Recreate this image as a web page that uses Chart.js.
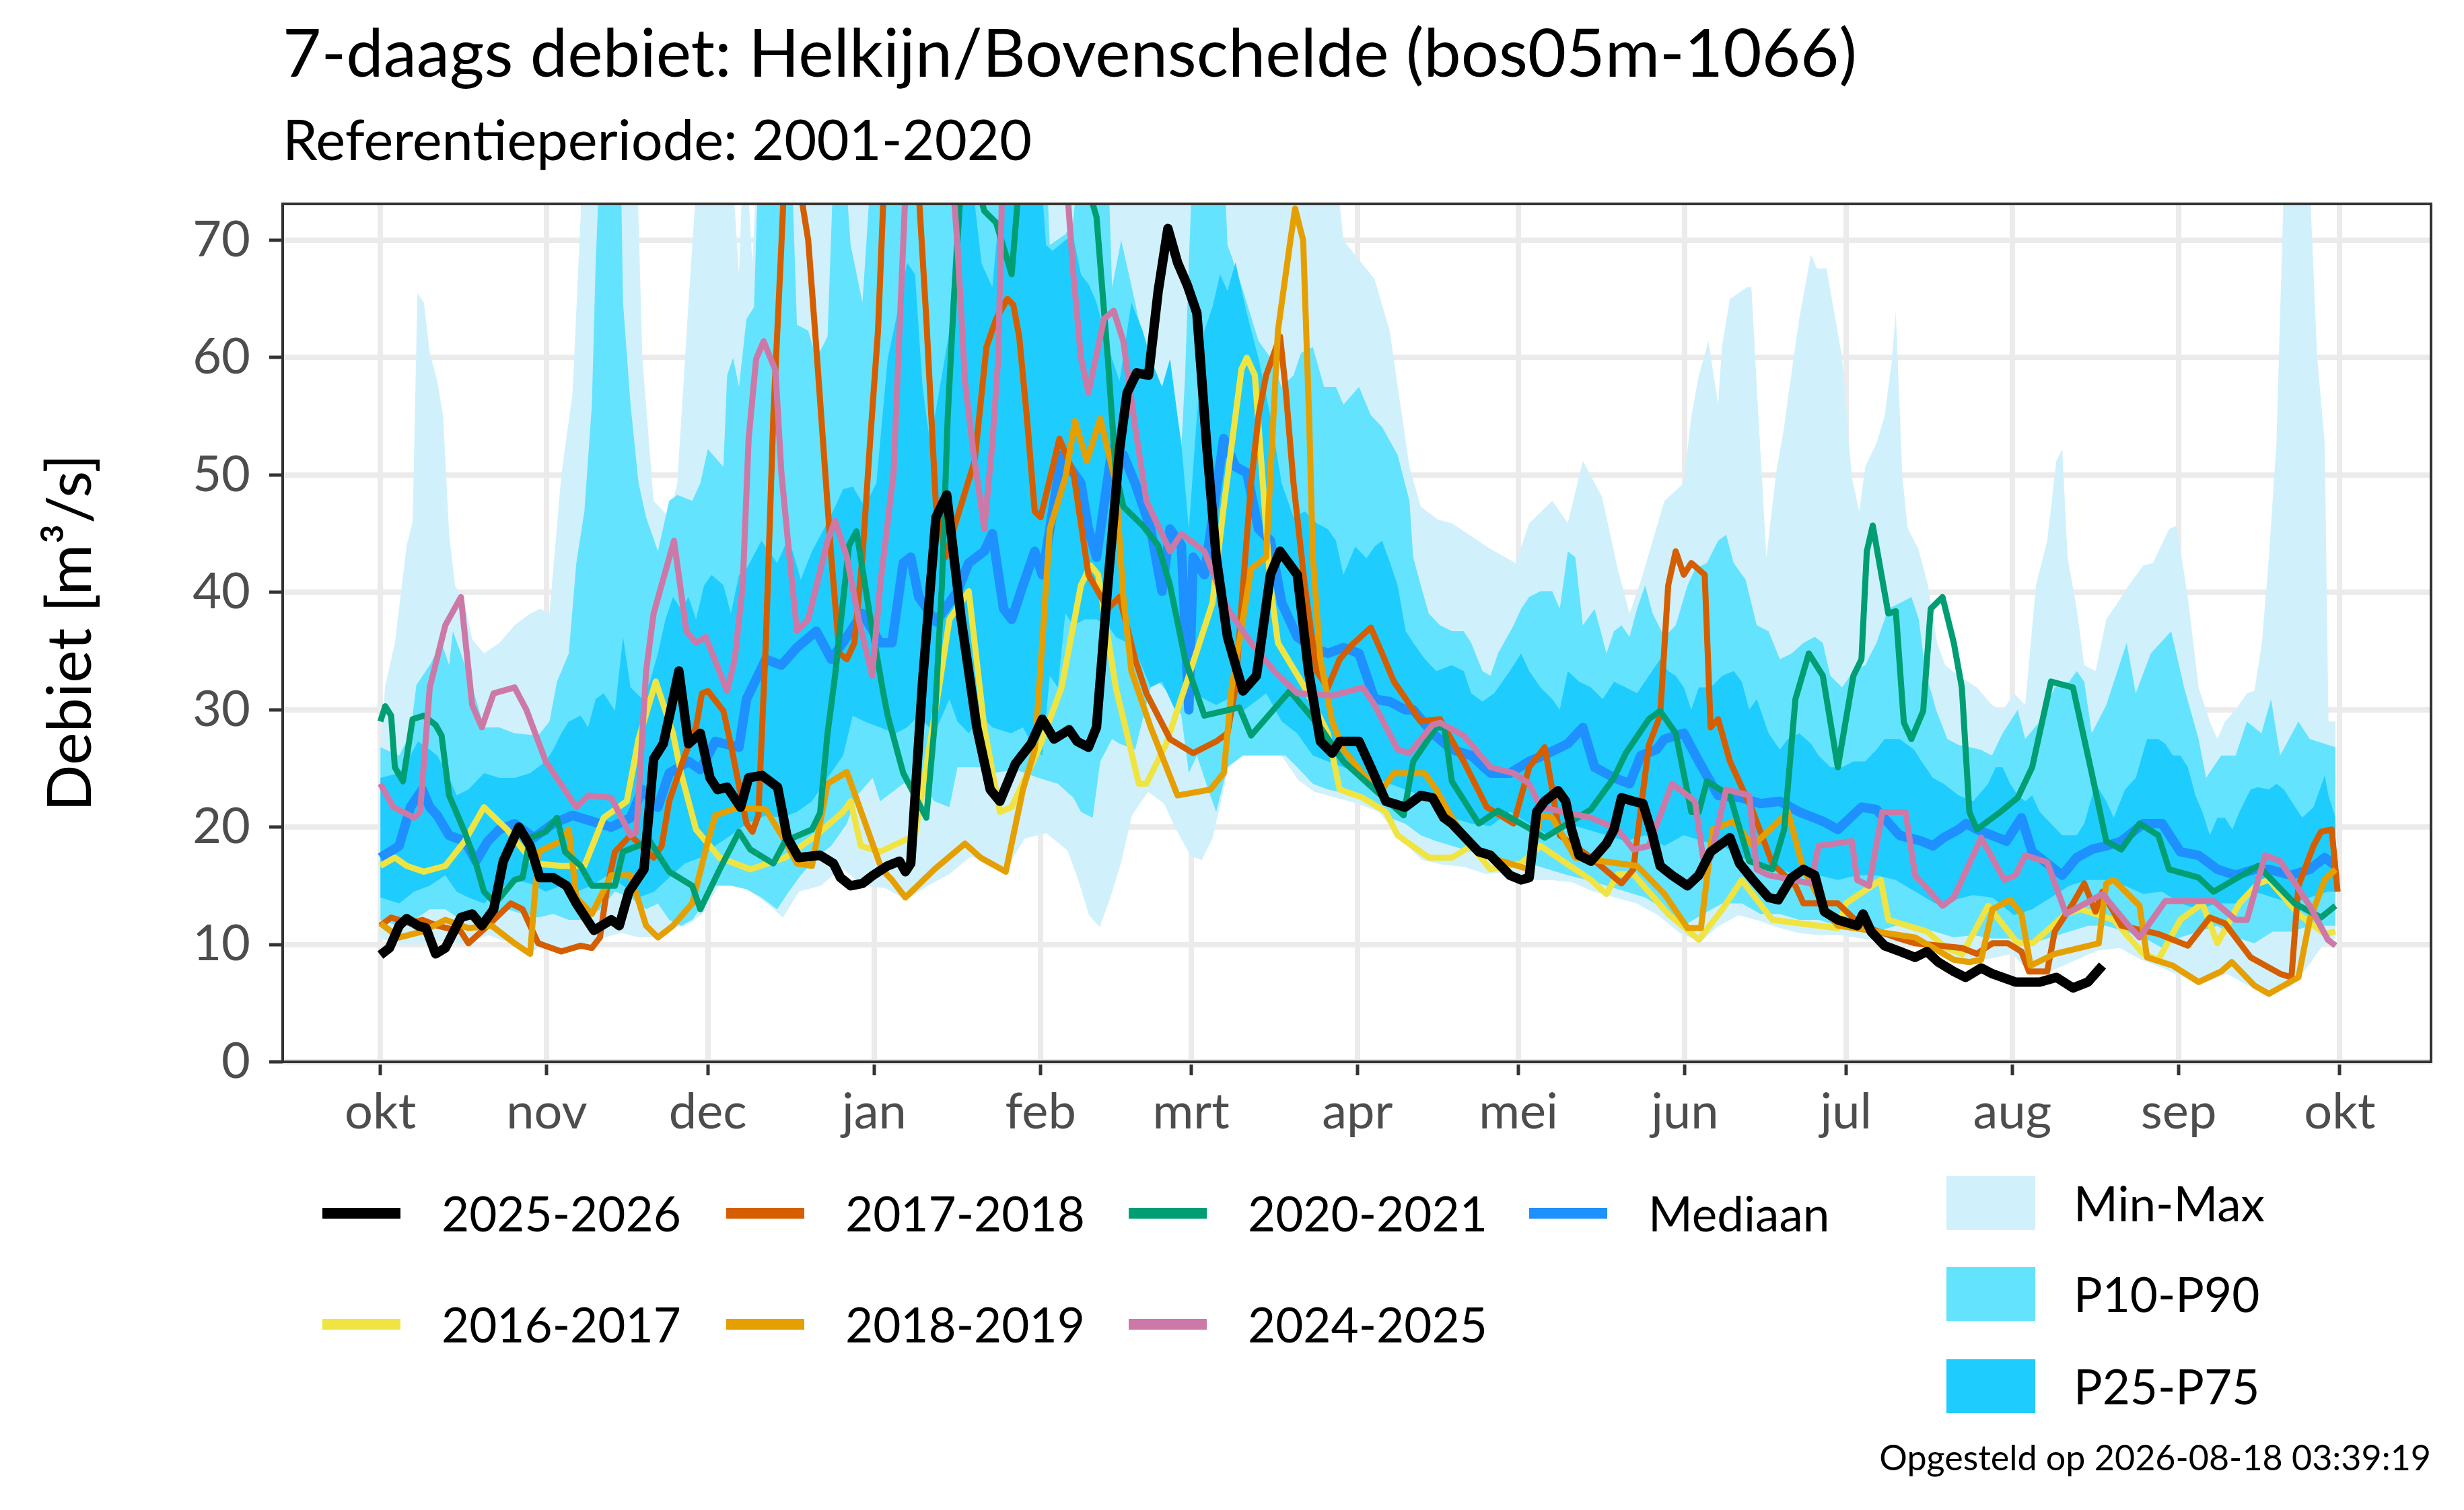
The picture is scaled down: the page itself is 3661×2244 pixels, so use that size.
<!DOCTYPE html>
<html>
<head>
<meta charset="utf-8">
<title>7-daags debiet Helkijn/Bovenschelde</title>
<script src="https://cdn.jsdelivr.net/npm/chart.js@4.4.1/dist/chart.umd.min.js"></script>
<style>
  html, body { margin: 0; padding: 0; background: #fff; }
  body { width: 3661px; height: 2244px; position: relative; overflow: hidden; font-family: Lato, sans-serif; color: #000; }
  #wrap { position: absolute; left: 0; top: 0; width: 3661px; height: 2244px; }
  .txt { position: absolute; white-space: nowrap; line-height: 1.2; }
  .item { position: absolute; display: flex; align-items: center; height: 120px; }
  .key { display: inline-block; }
</style>
</head>
<body>
<div id="wrap"><canvas id="debietChart"></canvas></div>
<div class="txt" style="left:420px;top:17px;font-size:99px">7-daags debiet: Helkijn/Bovenschelde (bos05m-1066)</div>
<div class="txt" style="left:420px;top:157px;font-size:83px">Referentieperiode: 2001-2020</div>
<div id="legende"></div>
<div class="txt" style="right:49px;top:2134px;font-size:52px">Opgesteld op 2026-08-18 03:39:19</div>

<script>
// x = dag sinds 1 oktober
const maandDagen = [0, 31, 61, 92, 123, 151, 182, 212, 243, 273, 304, 335, 365];
const maandLabels = ['okt', 'nov', 'dec', 'jan', 'feb', 'mrt', 'apr', 'mei', 'jun', 'jul', 'aug', 'sep', 'okt'];
const yTicks = [0, 10, 20, 30, 40, 50, 60, 70];

// [dag, debiet m3/s]
const jaar2025 = [[0,9.1],[1.7,9.7],[3.5,11.6],[4.9,12.2],[7,11.6],[8.5,11.4],[10.3,9.2],[12.1,9.7],[15,12.3],[17.1,12.6],[18.9,11.6],[21.1,13],[22.9,17.1],[25.8,20],[27.9,18.4],[29.7,15.7],[32.2,15.7],[34.7,15],[36.5,13.5],[39.8,11.2],[43,12.1],[44.5,11.6],[46.3,14.5],[49.1,16.4],[50.9,25.8],[52.7,27.1],[54.2,30.2],[55.6,33.3],[57.4,27.1],[59.6,28],[61.4,24.2],[62.8,23.2],[64.6,23.4],[67.1,21.7],[68.6,24.2],[71.1,24.4],[74,23.4],[75.8,19.1],[77.9,17.4],[81.9,17.6],[84.4,16.9],[85.7,15.7],[87.6,15],[89.8,15.2],[91.8,15.9],[94.5,16.7],[96.7,17.1],[97.8,16.2],[98.8,16.9],[101,32.4],[103.5,46.4],[105.5,48.3],[108.2,37.7],[111.1,28.5],[113.6,23.2],[115.4,22.2],[118.3,25.4],[121.2,27.1],[123.3,29.2],[125.5,27.5],[128.3,28.3],[129.8,27.3],[131.9,26.8],[133.4,28.5],[135.5,40.6],[137.7,52.2],[139.1,57],[140.9,58.7],[143.1,58.5],[144.9,65.7],[146.7,71],[148.5,68.1],[150.3,66.2],[152.1,63.8],[153.9,52.7],[155.7,43],[157.8,36.2],[160.7,31.6],[163.2,32.9],[165.8,41.5],[167.6,43.5],[170.8,41.5],[172.9,33.3],[175.1,27.3],[177.3,26.3],[178.7,27.3],[182.3,27.3],[184.5,25.1],[187.3,22.2],[190.9,21.7],[193.8,22.7],[196,22.5],[198.1,20.8],[199.6,20.3],[204.6,17.9],[206.8,17.6],[210.4,15.9],[212.5,15.5],[214,15.7],[215.4,21.3],[216.9,22.2],[219.4,23.1],[220.8,22.2],[221.9,19.8],[223.3,17.6],[225.5,17.1],[228.4,18.6],[229.8,19.8],[231.2,22.5],[233.4,22.2],[235.2,22],[237,19.3],[238.4,16.7],[240.6,15.9],[243.5,15],[245.6,15.9],[247.8,17.9],[251.4,19.1],[253.2,16.9],[255.7,15.5],[258.6,14],[260.4,13.8],[262.9,15.7],[265.1,16.4],[267.2,15.9],[269,12.8],[271.5,12.1],[275.1,11.6],[276.2,12.6],[277.7,11.1],[280.2,9.9],[283.1,9.4],[285.9,8.9],[288.1,9.4],[290.2,8.5],[293.1,7.7],[295.3,7.2],[298.2,8],[300.3,7.5],[304.6,6.8],[309.1,6.8],[312.2,7.2],[315.3,6.3],[318.1,6.8],[320.8,8.2]];

const jaar2016 = [[0,16.7],[2.7,17.4],[4.9,16.7],[8.1,16.2],[12.1,16.7],[15.7,18.8],[19.3,21.7],[23.6,19.8],[28.6,16.9],[33.7,16.7],[38,16.7],[41.6,20.8],[45.9,22.2],[48.1,27.5],[51.3,32.4],[54.5,28],[56,24.6],[58.8,19.8],[63.2,17.4],[68.9,16.4],[75.4,17.4],[81.2,19.3],[86.2,21.3],[87.6,22.2],[89.5,18.4],[93.1,17.9],[99.6,19.3],[103.9,31.4],[106,37.7],[109.6,40.1],[112.5,28.5],[115.4,21.3],[117.6,21.7],[122.6,26.6],[126.9,31.9],[130.5,40.6],[132.3,42.3],[133.7,41.5],[137,31.9],[141.3,23.7],[142.7,23.7],[146.3,27],[150.6,32.9],[155,39.1],[157.1,47.3],[160.4,59],[161.4,60],[162.9,58.5],[165.8,40.6],[167.2,35.7],[172.2,31.9],[176.5,28],[178.7,23.2],[183,22.5],[187.3,21.3],[189.5,19.3],[195.3,17.4],[199.6,17.4],[203.2,18.4],[206.8,16.4],[212.5,16.9],[216.1,18.4],[222.6,16.4],[225.5,15.5],[228.4,14.3],[230.5,16],[233.4,16],[239.9,12.6],[245.6,10.4],[250,13],[253.6,15.5],[259.3,12.1],[267.9,11.6],[271.5,11.4],[273,13.5],[279.5,15.5],[280.9,12.1],[288.1,11.1],[291.7,9.7],[294.7,9.2],[299.5,13.3],[305,10.1],[307.8,10.1],[314,12.6],[316.7,13],[322.9,12.1],[328.4,9.2],[331.2,8.7],[335.3,12.1],[339.4,13.5],[342.2,10.1],[346.3,13.5],[349.8,15.2],[351.8,15.5],[357.3,12.6],[362.2,10.9],[364.2,11.1]];

const jaar2017 = [[0,11.6],[2,12.3],[5.6,11.8],[7.8,12.1],[10.6,11.6],[15,11.1],[16.4,10.1],[20,11.6],[24.3,13.5],[26.5,13],[29.4,10.1],[33.7,9.4],[37.3,9.9],[39.4,9.7],[40.9,10.6],[42.3,15],[43.7,17.9],[46.6,19.3],[50.9,17.4],[52.4,18.4],[53.8,22.2],[56.7,26.1],[58.8,28.5],[59.9,31.4],[61,31.6],[63.9,29.9],[65.3,27],[68.2,20.3],[69.3,19.6],[70.4,21],[71.8,35.7],[73.2,55],[74.7,69.6],[76.5,88],[78.3,74],[79.7,70],[81.2,60.9],[84,43],[85.5,34.8],[86.9,34.3],[88.3,35.7],[89.8,43],[91.2,52.7],[92.7,62.3],[93.7,73.5],[96.5,95],[100.3,74],[101.7,63.3],[103.5,47.3],[105.3,43],[106.8,45.4],[110.7,51.2],[112.9,60.9],[114.7,63.3],[116.8,65],[117.9,64.5],[119,61.8],[120.4,55.1],[121.9,46.9],[123,46.4],[126.5,53.1],[129.1,50.2],[131.9,41.5],[135.5,38.6],[137.7,39.6],[140.6,34.3],[142.7,31.4],[147.1,27.5],[151.4,26.3],[155.7,27.3],[157.8,28],[159.3,31.9],[160.7,40.6],[162.2,49.3],[163.6,55.1],[165,58.5],[167.6,61.8],[168.6,57.5],[170.1,49.3],[172.2,40.6],[174.4,33.3],[176.5,31.9],[178.7,34.3],[180.9,35.5],[184.5,37],[186.6,34.8],[188.8,32.4],[190.9,31],[193.8,29],[197.4,29.2],[201.8,25.6],[206.1,21.7],[211.1,20.3],[214,25.1],[216.9,26.8],[218.3,23.2],[219.7,19.3],[225.5,17.4],[231.2,15.2],[233.4,16.4],[236.3,27],[238.4,29.5],[239.9,40.6],[241.3,43.5],[242.8,41.5],[244.2,42.5],[246.7,41.5],[247.8,28.5],[249.2,29.2],[251.4,25.6],[255.7,21.3],[259.3,16.9],[263.6,15],[265.1,13.5],[271.5,13.5],[275.9,11.6],[282.3,10.6],[285.9,10.1],[294.6,9.7],[297.4,9.2],[300.3,10.1],[303.2,10.1],[305.7,9.4],[307.1,7.7],[310.5,7.7],[311.9,11.1],[315.3,13.5],[317.4,15.2],[319.5,12.8],[320.8,14.5],[324.3,11.6],[331.2,10.9],[336.7,9.9],[340.8,12.3],[343.6,11.8],[348.4,8.9],[353.9,7.5],[356,7.2],[357.3,15],[360.1,18.4],[361.5,19.6],[363.5,19.8],[364.6,14.5]];

const jaar2018 = [[0,11.8],[3.5,10.6],[7.8,11.1],[12.1,12.1],[16.4,11.4],[20.7,11.6],[25,10.1],[27.9,9.2],[29.4,17.9],[33.7,18.8],[35.1,19.8],[36.5,14],[39.4,12.6],[43,15.9],[46.6,15.9],[49.5,11.6],[51.7,10.6],[54.5,11.6],[58.1,13.5],[61,18.8],[62.4,21],[66.8,21.7],[71.8,21.5],[75.4,18.8],[77.6,16.9],[80.4,16.7],[83.3,23.7],[86.9,24.7],[89.8,21],[93.4,16.4],[95.3,15.5],[97.8,14],[103.2,16.4],[108.9,18.6],[111.8,17.4],[116.5,16.2],[119.7,23.2],[121.9,26.6],[123.3,35.7],[124.7,45.4],[127.6,49.8],[129.4,54.6],[131.6,51.2],[134.1,54.8],[137,49.3],[138.4,39.6],[139.9,33.3],[143.5,28.5],[148.5,22.7],[154.6,23.2],[157.1,24.6],[158.6,31.9],[162.2,42],[165,43],[167.2,62.3],[169.4,69.6],[170.4,72.7],[171.9,70],[173,55],[173.7,43],[175.1,34.3],[177.3,29],[179.4,26.6],[184.5,23.7],[186.6,23.2],[188.8,24.6],[194.5,24.6],[196.7,23.2],[199.6,20.8],[203.2,18.4],[206.8,17.4],[214,16.4],[216.1,21],[218.3,20.8],[222.6,17.4],[234.1,16.7],[239.2,14.3],[243.5,11.4],[246,11.4],[248.2,19.8],[252.1,20.5],[255.7,18.4],[262.2,21.3],[265.1,16.4],[269.4,12.8],[271.5,11.6],[285.9,10.6],[293.1,8.7],[296,8.5],[298.2,8.7],[300.3,13],[303.6,13.8],[305.7,12.6],[307.4,8.2],[311.9,9.2],[320.1,10.1],[321.5,15.2],[322.9,15.5],[327.7,13.3],[329.1,8.9],[333.9,8.2],[338.7,6.8],[342.9,7.7],[344.9,8.5],[349.1,6.5],[351.8,5.8],[357.3,7.2],[359.4,12.1],[362.2,15.5],[364.2,16.4]];

const jaar2020 = [[0,29],[0.9,30.3],[2,29.5],[2.7,25.1],[4.2,23.9],[6,29.2],[8.1,29.5],[10.3,28.7],[11.4,27.8],[12.8,22.7],[15.7,19.6],[17.8,16.9],[19.3,14.5],[21.4,13.5],[25,15.5],[26.5,15.7],[27.9,19.1],[30.8,19.6],[32.9,20.8],[34.4,17.9],[37.3,16.7],[39.4,15],[43.7,15],[45.2,17.9],[50.2,18.8],[53.8,16.2],[58.1,15],[59.6,13],[63.2,16.4],[66.8,19.6],[68.9,18.1],[73.2,16.9],[75.4,18.8],[80.4,19.8],[81.9,21.2],[83.3,28],[84.7,32.9],[87.3,44],[88.7,45.2],[91.2,38],[93.7,31.4],[94.5,29.5],[97.4,24.6],[101.7,20.8],[103.2,28.5],[104.6,40.6],[105.7,55.1],[106.8,64.7],[108.2,75],[110.4,76],[112.5,72.5],[114.7,71.5],[117.6,67.1],[119,75],[125,85],[133.4,72],[135.5,60],[137,50.2],[138.4,47.3],[142,45.7],[144.9,44],[147.1,40.6],[149.9,34.3],[153.5,29.5],[160,30.2],[162.2,27.8],[169.4,31.6],[175.1,28.5],[179.4,25.6],[185.2,23.2],[190.6,21],[192.4,25.6],[196.7,28.5],[198.2,28.5],[199.6,23.9],[204.6,20.3],[208.2,21.4],[214,19.9],[216.9,19.1],[225.5,21.5],[229.8,24.2],[232,26.3],[236.3,29.2],[238.4,29.9],[241.3,28],[244.2,21.3],[245.6,21.3],[247.1,23.9],[251.4,22.7],[255,17.1],[259.3,16.4],[261.5,19.8],[263.6,30.9],[266.1,34.8],[268.7,32.9],[271.5,25.1],[274.4,32.9],[275.9,34.3],[276.9,43.5],[278,45.7],[280.9,38.2],[282.3,38.4],[283.8,28.9],[285.2,27.5],[287.4,29.9],[288.8,38.6],[291,39.6],[293.1,35.7],[294.6,31.9],[296,21.3],[297.4,19.8],[301.8,21.3],[305,22.5],[307.7,25.1],[311.2,32.4],[315.3,31.9],[318.8,24.6],[321.5,18.8],[324.3,18.1],[327.7,20.3],[331.2,19.3],[333.2,16.4],[338.7,15.7],[341.5,14.5],[349.8,16.7],[356.6,13.5],[361.5,12.3],[364.2,13.3]];

const jaar2024 = [[0,23.7],[2.4,21.7],[6.3,20.8],[7.4,21.3],[9.2,31.9],[12.1,37.2],[15,39.6],[17.1,30.4],[18.9,28.5],[21.1,31.4],[25,31.9],[27.2,30],[30.8,25.6],[36.5,21.7],[38.7,22.7],[43,22.5],[46.6,19.3],[47.7,19.6],[49.5,33.3],[50.9,38.2],[54.7,44.4],[57,36.7],[58.8,35.7],[60.6,36.2],[64.6,31.6],[66,34.3],[67.5,40.6],[68.6,53.1],[70,59.9],[71.4,61.4],[73.6,58.9],[74.7,50.2],[76.1,43.5],[77.6,36.7],[79.7,37.7],[83.3,44.4],[84.7,46.1],[86.9,43],[89.1,37.7],[91.6,32.9],[93.1,40.6],[95.6,50.2],[96.7,62.3],[97.8,74],[101,85],[106.8,74],[107.5,69.6],[108.9,58],[110.4,52.2],[112.5,45.4],[114,52.7],[115.1,60],[115.8,74],[121,90],[128,74],[129.1,67.1],[130.5,60],[131.9,57],[134.8,63.3],[136.6,64],[138.4,61.4],[140.6,54.1],[142.7,47.8],[147.1,43.5],[149.2,45],[153.5,43.5],[157.8,38.6],[162.2,35.7],[166.5,33.3],[170.8,31.4],[177.3,31.2],[183,31.9],[185.2,30.4],[189.5,26.6],[191.7,26.3],[196,28.7],[197.4,28.9],[201.8,27.8],[206.8,25.1],[211.1,24.6],[214,23.7],[216.1,21.7],[225.5,20.8],[230.5,19.8],[233.4,18.1],[236.3,18.4],[240.6,23.7],[244.9,22.2],[246.4,17.4],[247.8,17.4],[250.7,23.2],[255,22.7],[256.4,16.4],[258.6,15.9],[266.5,15.2],[267.9,18.4],[274.1,18.8],[275.1,15.5],[277.3,15],[279.8,21.3],[284.1,21.3],[285.9,15.9],[291,13.3],[293.1,14],[298.2,19.1],[302.5,15.5],[304.6,15.9],[306.4,17.6],[310.5,17],[314,12.6],[320.8,14.3],[325.7,11.6],[327.7,10.6],[332.5,13.7],[341.5,13.7],[345.6,12.1],[347.7,12.1],[351.1,17.6],[353.9,17.1],[359.4,13.3],[362.8,10.4],[364.2,9.9]];

const mediaan = [[0,17.4],[3.5,18.4],[5.6,21.7],[7.8,23.2],[9.2,21.7],[10.6,21],[12.8,19.3],[15.7,18.8],[17.8,17.1],[20,18.8],[22.2,19.8],[25,20.3],[28.6,19.1],[32.2,20.3],[35.8,21],[39.4,20.5],[43,20],[46.6,20.8],[48.8,23.2],[51.7,21.7],[53.8,24.6],[57.4,25.6],[59.6,24.9],[62.4,27.3],[66.8,26.8],[68.2,30.9],[71.8,34.3],[74.7,33.8],[77.6,35.3],[81.2,36.7],[84,34.3],[86.9,36.2],[89.8,38.2],[93.1,35.7],[95.3,35.7],[97.4,42.5],[98.8,43],[100.3,39.6],[103.5,37.5],[107.5,40.1],[109.6,42.5],[112.5,43.5],[114,45],[116.1,38.6],[117.6,37.7],[119.7,40.6],[121.9,43.5],[123.3,41.5],[124.7,45.4],[126.9,51.7],[129.1,50.2],[130.5,49.3],[131.9,45.4],[133.4,43],[136.3,52.2],[138.4,51.7],[140.6,49.3],[143.5,45.4],[145.6,40.1],[147.1,45.4],[149.2,44],[150.6,30],[151.4,43],[153.5,41.5],[157.1,53.1],[159.3,50.7],[161.4,50.2],[163.6,45.4],[165.8,44.4],[167.9,39.1],[170.8,36.2],[173.7,35.3],[176.5,34.8],[179.4,35.3],[182.3,34.8],[185.2,30.9],[188,30.7],[190.9,30],[192.4,30],[196,28],[199.6,26.6],[203.2,26.1],[206.8,24.6],[210.4,24.6],[214,25.6],[217.6,26.3],[221.2,27.1],[224,28.5],[226.2,25.1],[229.8,24.2],[232.7,23.7],[234.8,26.1],[237.7,26.6],[239.2,27.5],[242.8,28],[245.6,25.6],[249.2,22.7],[253.6,22.5],[257.1,22],[260.7,22.2],[264.3,21.3],[268.7,20.5],[271.5,19.8],[275.9,21.7],[278.7,21.5],[283,19.3],[287.1,18.8],[289.2,18.4],[291.2,19.1],[294,19.8],[295.4,20.3],[297.4,19.8],[300.2,19.3],[302.9,18.8],[305.7,20.8],[307.7,17.9],[310.5,16.9],[313.3,15.9],[316,17.4],[318.8,18.1],[321.5,18.4],[324.3,18.8],[328.4,20.3],[331.9,20.3],[335.3,17.9],[338.7,17.6],[342.2,16.4],[345.6,15.9],[349.1,16.4],[351.8,16.4],[356,15.9],[359.4,16.4],[362.2,17.4],[364.2,16.7]];

const maximum = [[0,27],[0.9,32],[2.7,35.7],[4.9,44],[6,46],[6.9,65.5],[8.1,64.7],[9.2,60.4],[10.6,58],[11.7,55],[12.8,45],[13.9,40.6],[15.7,39.1],[17.1,36],[19.3,34.8],[22.2,35.7],[25,37.2],[27.9,38.2],[29.7,38.6],[31.5,38.2],[33.7,50],[35.8,57],[37.3,72],[38.5,90],[47,90],[48.8,60],[50.9,47.8],[53.8,46.4],[55.3,49.3],[57.4,64.7],[59.6,80],[65,80],[66.8,67.1],[67.8,80],[69.3,68],[71,85],[97,85],[98.1,67.1],[100,85],[103,85],[104.6,65.7],[107,90],[176,85],[179.4,70],[185.2,66.7],[188,62.3],[191.7,50.7],[193.8,47.3],[197,46.2],[199.6,45.9],[206.8,43.7],[211.5,42.5],[214,45.9],[218.3,47.8],[221.2,45.9],[224,51.2],[227.6,48.1],[230.5,42],[232.7,38.2],[234.8,41],[239.2,47.8],[242.8,49.3],[244.2,55],[245.6,58.5],[247.4,61.4],[249.2,56],[249.9,60.9],[251.4,65],[254.6,66],[255.4,66],[256.4,57.5],[258.2,43],[260,50.2],[261.5,54.1],[262.5,57.5],[264.3,63.3],[266.5,68.8],[267.6,67.6],[269.4,67.6],[272.3,60],[274.1,49.8],[275.5,46.9],[276.6,50.7],[278.7,52.7],[280.2,55],[281.6,59.9],[282.3,64],[283.5,50],[284.5,45.5],[286.5,43.7],[288.3,40.6],[290,35.7],[291.5,33.8],[294,32.9],[297.4,31.9],[300.2,30.4],[302.2,29.9],[304.3,31.4],[306.4,30.4],[308.4,40.6],[310.5,44.4],[312.2,51.2],[313.3,52.2],[314.3,43],[316,38.6],[317.4,33.8],[319.5,33.3],[321.5,37.7],[323.6,39.1],[325.7,40.6],[328.4,42.3],[330.2,42.5],[333.2,45.4],[334.6,45.7],[336.7,39.6],[338.7,31.9],[340.8,29],[342.2,27.5],[343.6,29],[345.6,30],[347.7,31.4],[349.1,31.6],[350.5,35.7],[351.8,43],[353.2,52.7],[354.6,75],[357,85],[359.4,75],[360.8,60],[362.2,52.7],[362.9,29],[364.2,29]];

const p90 = [[0,26.8],[3.5,26.1],[5.6,28],[6.7,32.1],[9.2,33.8],[11.4,35.7],[12.8,33.8],[13.5,36.7],[15,34.8],[16.4,32.9],[17.8,30.9],[19.3,28.5],[22.2,28.5],[25,28],[29.4,27.8],[31.5,29],[32.9,32.4],[35.1,34.8],[36.5,42.5],[38,46.9],[39.4,56],[40.1,68],[41.6,85],[44.5,85],[45.2,64.7],[46.6,56],[48.1,49.3],[49.5,46.4],[51.7,43.5],[53.8,47.8],[55.3,48.3],[58.1,47.8],[59.6,49.3],[61,52.2],[63.9,50.7],[64.6,58.5],[65.7,60],[66.8,57.5],[68.2,63.3],[69.6,64.3],[71,85],[76,85],[77.6,62.8],[79.7,62.3],[81.2,59.9],[83.3,61.8],[84.7,80],[86,80],[87.6,69.6],[89.8,64.7],[92.7,85],[123.3,85],[124.7,69.6],[127.6,70.5],[129,71.5],[132,85],[135,85],[136.3,66],[138,70],[140.6,64.7],[142.7,60],[143.5,54.1],[144.9,52.7],[146.3,51.2],[148.5,51.2],[149.2,52.2],[149.9,58.5],[150.6,68],[152,85],[156.5,85],[157.8,69.6],[158.6,68.6],[160.7,65.7],[163.6,61.4],[165.8,60],[167.9,57.5],[170.1,58.5],[171.5,60.4],[173.7,60.9],[175.8,57.5],[178,57.5],[179.4,56],[182.3,57.5],[184.5,55.1],[186.6,54.1],[189.5,51.7],[191.7,47.8],[192.4,43],[193.8,40.6],[195.3,38.2],[197.4,37.2],[199.6,36.7],[201.8,36.7],[203.2,35.7],[205.3,33.3],[206.8,32.9],[208.2,34.8],[211.1,37.2],[212.5,38.6],[214,39.6],[216.1,40.1],[218.3,40.1],[219.7,38.6],[221.2,43.5],[222.6,43],[224,37.2],[226.2,38.6],[227.6,36.2],[228.4,34.8],[229.8,36.7],[231.2,37.2],[232.7,36.2],[234.1,38.6],[235.6,40.6],[237,38.2],[239.2,36.2],[241.3,37.2],[243.5,40.6],[244.9,42],[247.1,42.5],[249.2,44.4],[250.7,44.9],[252.1,42.5],[254.3,41.1],[256.4,37.2],[258.6,36.7],[260.7,34.3],[262.9,34.8],[265.1,35.7],[267.2,36.2],[268.7,35.7],[270.1,32.9],[272.3,31.9],[274.4,33.3],[276.6,33.8],[278.7,35.7],[280.9,38.6],[283.1,39.1],[285.2,39.6],[286.6,37.7],[287.8,33.3],[289.8,30],[291.9,27.5],[294,27],[298.1,26.6],[300.2,26.1],[302.2,28],[305,30],[306.4,27.5],[309.1,29],[311.9,31.9],[314.6,32.4],[316,33.3],[317.4,32.4],[318.8,28],[321.5,30.4],[324.3,34.3],[325.3,35.7],[327,31.4],[329.8,34.8],[333.6,36.7],[336,31.9],[338.7,27.5],[340.1,24.2],[342.9,26.1],[345.6,26.1],[347.7,29],[350.4,28],[352.2,30.9],[353.9,26.1],[357.3,29],[359.4,27.5],[364.2,26.8]];

const p75 = [[0,24.2],[3.5,24.6],[5.6,26.1],[7,27.3],[9.2,26.6],[10.6,26.1],[12.8,24.2],[14.2,22.7],[16.4,23.2],[19.3,24.6],[22.2,24.2],[25,24.2],[27.9,24.6],[30.8,25.6],[32.2,26.6],[33.7,28],[35.1,29],[37.3,29.5],[38.7,28.5],[40.1,30.9],[41.6,31.4],[43.7,29.9],[45.2,36.2],[46.6,31.9],[48.8,30.9],[50.2,32.4],[51.7,34.8],[53.1,37.7],[54.5,39.6],[56,38.6],[57.4,39.6],[58.8,37.7],[60.3,40.6],[61.7,41.5],[63.9,40.6],[65.3,38.2],[66.8,41.5],[68.2,42],[71,44.4],[72.4,43.5],[73.9,42.5],[75.4,44],[76.8,43.5],[78.3,41.1],[80.4,43.5],[82.6,45.4],[84.7,47.3],[86.2,48.8],[88,49],[90.2,47.3],[92.4,49.3],[94.5,59.9],[96.7,64.7],[98.1,68.1],[99.6,67.1],[101,57.5],[102.4,52.7],[104.6,58.5],[106,62.3],[107.5,76],[110,76],[112,68],[114,66],[116,76],[123,76],[124,69.6],[125.2,69.1],[127.6,70],[129,70.5],[130.5,67.1],[132,66.2],[133.4,64.7],[134.8,62.3],[136.3,59.9],[137.7,58],[139.9,64.7],[142,62.3],[143.5,59.9],[145.6,57.5],[147.1,59.9],[148.5,55],[149.2,52.7],[150.6,45.4],[152.1,55],[153.5,62.3],[155,64.3],[156.4,67.1],[157.8,65.7],[159.3,68.1],[161.4,63.8],[163.6,59.9],[165.8,55],[167.9,49.3],[170.1,46.4],[172.2,46.9],[174.4,45.9],[176.5,45.4],[178,44.4],[179.4,41.5],[181.6,43.9],[183.7,42.9],[185.2,43.9],[186.6,44.4],[188.1,42.5],[189.5,40.6],[191,36.7],[192.4,35.7],[194.6,34.3],[196.7,33.3],[199.6,33.8],[201.8,33.3],[203.2,31.4],[205.3,30.7],[207.5,31.4],[210.4,33.3],[212.5,34.8],[214,33.3],[216.1,31.9],[218.3,30.9],[219.7,30],[221.2,33.3],[223.3,32.4],[225.5,31.9],[227.7,30.9],[229.8,32.4],[232,31.9],[234.1,31.4],[236.3,32.9],[238.4,34.3],[239.9,33.3],[241.3,32.9],[242.8,31.9],[244.2,30],[245.6,31.9],[247.8,31.9],[250,32.9],[252.1,33.3],[253.6,32.4],[255,30],[256.4,30.9],[258.6,28],[260.7,26.6],[262.2,27.5],[264.3,28],[266.5,27.1],[267.9,26.1],[270.1,25.1],[272.3,25.1],[274.4,25.6],[276.6,25.6],[278.7,26.6],[280.2,27.5],[283,27.5],[285.7,26.6],[287.1,25.6],[289.2,24.2],[291.2,23.7],[294,22.7],[296.7,22.2],[299.5,23.7],[300.9,25.1],[302.2,25.1],[303.6,23.7],[305,22.7],[306.4,22.2],[307.7,22.7],[309.1,21.3],[311.2,20.3],[313.3,19.3],[316,19.3],[317.4,20.3],[319.5,23.7],[321.5,22.2],[322.9,20.8],[325,23.2],[327,24.2],[329.1,27.5],[331.2,27.5],[332.5,27.1],[333.9,26.1],[335.3,26.1],[336.7,25.1],[338.1,22.7],[339.4,21.3],[340.8,19.3],[342.2,20.8],[343.6,20.8],[345,19.8],[346.3,21.3],[348.4,23.2],[349.8,23.4],[351.8,23.2],[353.2,23.7],[354.6,23.2],[356,22.2],[358,20.8],[360.1,21.7],[362.2,24.4],[362.9,22.7],[364.2,20.8]];

const p25 = [[0,14],[3.5,13.5],[6.3,14.5],[9.2,15],[12.1,15.9],[14.2,14.5],[16.4,14],[19.3,13.5],[22.2,14.7],[25,15.5],[27.9,15.2],[30.8,14.5],[33.7,15],[36.5,14.5],[39.4,15],[42.3,15.9],[45.2,15],[48.1,14],[51,14.5],[53.8,15.7],[56.7,16.9],[59.6,17.4],[62.4,18.4],[65.3,19.3],[68.2,20.3],[71.8,21],[74.7,20.8],[77.6,21.3],[80.4,22.2],[83.3,24.2],[86.2,26.1],[88,29.5],[90.2,29],[93.1,28.5],[96,28],[98.1,28.5],[100.3,29.5],[103.2,28],[106,30.9],[107.5,29],[109.6,28],[111.8,29.5],[114,28.5],[117.5,28],[119.7,28.5],[121.9,26.6],[123.3,26.1],[124.7,32.9],[126.2,31.9],[127.6,38.2],[129.1,37.2],[131.2,37.7],[133.4,37.7],[135.5,37.2],[137,36.2],[139.1,35.7],[141.3,34.3],[143.5,31.9],[145.6,32.4],[147.1,30.9],[148.5,29.5],[150.6,31.9],[153.5,30.9],[155.7,30.4],[157.8,30.9],[160.7,29.9],[163.6,30.9],[165,31.4],[167.9,29],[170.8,28],[173.7,26.1],[176.5,25.6],[179.4,25.1],[182.3,24.6],[185.2,24.2],[188,23.7],[190.9,23.2],[193.8,22.7],[196.7,22.2],[199.6,20.8],[203.2,20.3],[206.8,20.1],[210.4,21.3],[214,20.3],[217.6,19.3],[221.2,20.3],[224.8,19.8],[228.4,19.3],[232,18.8],[235.6,19.3],[239.2,18.4],[242.8,19.3],[246.4,18.8],[250,18.4],[253.6,17.4],[257.1,16.9],[260.7,16.4],[264.3,15.9],[267.9,15.9],[271.5,15.5],[275.1,15.9],[278.7,15.9],[282.3,15.5],[285.9,14.5],[289.6,13.5],[293.1,13.8],[296.7,14.2],[300.3,14],[304.3,12.5],[307.7,13],[311.2,14],[314.6,15],[318.1,15.5],[321.5,15.5],[325,15],[328.4,14.3],[331.9,14.5],[335.3,13.5],[338.7,13],[342.2,13.5],[345.6,13.5],[349.1,14.5],[352.5,14],[356,13.5],[359.4,14],[362.8,14.5],[364.2,14.5]];

const p10 = [[0,12.1],[3.5,11.6],[6.3,12.1],[9.2,13],[12.1,13],[15,12.1],[17.8,12.1],[20.7,12.6],[23.6,13],[26.5,12.6],[29.4,12.3],[32.2,12.6],[35.1,12.1],[38,12.1],[40.9,13],[43.7,14.5],[46.6,14],[49.5,13],[51.7,13.5],[53.8,12.1],[56,11.6],[58.1,12.1],[60.3,13.5],[62.4,15],[65.3,15],[68.2,14.7],[71,14],[73.9,13],[76.1,14.5],[78.3,15.9],[81.2,17.4],[84,18.4],[86.9,20.3],[88.8,22.7],[91.7,24.2],[93.1,22.2],[96,23.2],[97.4,23.7],[100.3,24.2],[103.2,22.2],[106,21.7],[107.5,25.1],[111.8,25.1],[114,24.6],[118.3,24.9],[122.6,24.2],[126.2,23.7],[129.1,22.5],[130.5,21.3],[132.7,20.8],[134.1,25.6],[136.3,27.5],[137.7,27.1],[140.6,26.6],[143.5,31.9],[144.9,32.4],[147.8,30.9],[149.2,29.5],[150.6,24.6],[152.1,26.1],[154.2,23.2],[155.7,21.3],[157.8,25.1],[160.7,26.1],[168.6,26.1],[170.8,25.1],[173.7,23.7],[176.5,23.2],[179.4,22.9],[182.3,22.7],[185.2,21.7],[188,20.8],[190.9,20.3],[193.8,19.3],[196.7,18.8],[199.6,18.4],[203.2,17.9],[206.8,17.4],[210.4,16.9],[214,16.9],[217.6,16.4],[221.2,15.9],[224.8,15.5],[228.4,15],[232,14.5],[235.6,14],[239.2,13],[242.8,11.6],[246.4,12.6],[250,13.5],[253.6,13.5],[257.1,12.6],[260.7,12.6],[264.3,12.1],[267.9,12.1],[271.5,11.6],[275.1,11.6],[278.7,11.1],[282.3,11.6],[285.9,11.6],[289.6,11.1],[293.1,10.6],[296.7,10.8],[300.3,10.5],[304.6,10.5],[307.7,10.1],[314.6,11.1],[318.1,11.6],[321.5,11.6],[328.4,10.6],[331.9,9.7],[335.3,10.6],[338.7,11.1],[342.2,11.6],[345.6,10.6],[349.1,10.1],[352.5,11.1],[356,11.1],[359.4,11.6],[364.2,11.6]];

const minimum = [[0,10.5],[4,10],[8,10],[12,10.3],[16,10],[20,10.8],[25,10],[28,9.2],[30,10],[34,9.4],[38,9.6],[41,10.5],[45,11],[48,10.6],[51,10.6],[54,11.4],[57,11.6],[60,12.6],[63,15],[66,15.5],[69,14.5],[72,13.5],[75,12.3],[78,14.5],[82,15],[86,16.5],[90,15],[94,14.8],[98,13.8],[102,15],[106,16],[110,17.5],[113,17],[116,16],[120,19],[124,19.5],[128,18],[130,15.5],[132,12.5],[134,11.5],[136,14],[138,17],[140,21],[143,23],[146,22],[148,20],[151,17.5],[153,17.2],[155,19],[157,23],[159,27],[162,28],[165,27.5],[168,26],[171,24],[174,23],[178,22.5],[182,22],[186,21.3],[190,19],[194,17.2],[198,16.8],[202,16.6],[206,16],[210,16.2],[214,15.5],[218,15.5],[222,15.3],[226,14.5],[230,14],[234,13.5],[238,12.5],[242,11],[246,10.2],[249,11.5],[253,12.5],[257,12],[260,11.5],[264,11],[268,10.8],[272,10.8],[276,10.5],[280,10.3],[284,10],[288,9.8],[292,9.2],[296,8.5],[300,8.8],[304,9.2],[307,7.7],[311,7.7],[315,8.5],[320,9.5],[324,9.7],[328,8.7],[332,8],[336,7.2],[340,6.8],[344,7.5],[348,6.5],[352,5.7],[356,6.5],[358,7.5],[362,10],[364.2,10.5]];

const kleurMinMax = '#D0F1FC';
const kleurP10P90 = '#64E3FE';
const kleurP25P75 = '#1ECDFE';

const lijnen = [
  { label: '2025-2026', data: jaar2025, kleur: '#000000', dikte: 14 },
  { label: '2024-2025', data: jaar2024, kleur: '#CC79A7', dikte: 9 },
  { label: '2020-2021', data: jaar2020, kleur: '#009E73', dikte: 9 },
  { label: '2018-2019', data: jaar2018, kleur: '#E69F00', dikte: 9 },
  { label: '2017-2018', data: jaar2017, kleur: '#D55E00', dikte: 9 },
  { label: '2016-2017', data: jaar2016, kleur: '#F0E442', dikte: 9 },
  { label: 'Mediaan',   data: mediaan,  kleur: '#1E90FF', dikte: 14 }
];

const naarPunten = arr => arr.map(p => ({ x: p[0], y: p[1] }));

const datasets = lijnen.map(l => ({
  label: l.label,
  data: naarPunten(l.data),
  borderColor: l.kleur,
  borderWidth: l.dikte,
  borderJoinStyle: 'round',
  pointRadius: 0,
  tension: 0,
  fill: false
}));

function band(label, data, kleur, doel) {
  return {
    label: label,
    data: naarPunten(data),
    borderWidth: 0,
    borderColor: 'rgba(0,0,0,0)',
    backgroundColor: kleur,
    pointRadius: 0,
    tension: 0,
    fill: doel === null ? false : { target: doel }
  };
}
// index 7..12
datasets.push(band('P75', p75, kleurP25P75, 8));
datasets.push(band('P25', p25, kleurP25P75, null));
datasets.push(band('P90', p90, kleurP10P90, 10));
datasets.push(band('P10', p10, kleurP10P90, null));
datasets.push(band('Max', maximum, kleurMinMax, 12));
datasets.push(band('Min', minimum, kleurMinMax, null));

const paneelRand = {
  id: 'paneelRand',
  afterDatasetsDraw(chart) {
    const { ctx, chartArea: a } = chart;
    ctx.save();
    ctx.strokeStyle = '#333333';
    ctx.lineWidth = 4;
    ctx.strokeRect(a.left, a.top, a.right - a.left, a.bottom - a.top);
    ctx.restore();
  }
};

const tickFont = { family: 'Lato', size: 74 };

new Chart('debietChart', {
  type: 'line',
  data: { datasets: datasets },
  plugins: [paneelRand],
  options: {
    responsive: true,
    maintainAspectRatio: false,
    devicePixelRatio: 1,
    animation: false,
    events: [],
    parsing: false,
    layout: { padding: { left: 0, top: 303, right: 49, bottom: 536 } },
    plugins: {
      legend: { display: false },
      tooltip: { enabled: false },
      title: { display: false }
    },
    scales: {
      x: {
        type: 'linear',
        min: -18.2,
        max: 382,
        afterBuildTicks: s => { s.ticks = maandDagen.map(v => ({ value: v })); },
        afterFit: s => { s.height = 130; },
        ticks: {
          callback: v => maandLabels[maandDagen.indexOf(v)],
          font: tickFont, color: '#4D4D4D', padding: 11, maxRotation: 0, autoSkip: false
        },
        grid: { color: '#EBEBEB', lineWidth: 8, tickColor: '#333333', tickLength: 20, tickWidth: 5 },
        border: { display: false }
      },
      y: {
        min: 0,
        max: 73.1,
        afterBuildTicks: s => { s.ticks = yTicks.map(v => ({ value: v })); },
        afterFit: s => { s.width = 420; },
        ticks: { font: tickFont, color: '#4D4D4D', padding: 28 },
        grid: { color: '#EBEBEB', lineWidth: 8, tickColor: '#333333', tickLength: 20, tickWidth: 5 },
        border: { display: false },
        title: {
          display: true,
          text: 'Debiet [m³/s]',
          font: { family: 'Lato', size: 92 },
          color: '#000000',
          padding: { top: 50, bottom: 0 }
        }
      }
    }
  }
});

// legende (ggplot-stijl, twee blokken)
const legLijnItems = [
  { label: '2025-2026', kleur: '#000000', kol: 0, rij: 0 },
  { label: '2016-2017', kleur: '#F0E442', kol: 0, rij: 1 },
  { label: '2017-2018', kleur: '#D55E00', kol: 1, rij: 0 },
  { label: '2018-2019', kleur: '#E69F00', kol: 1, rij: 1 },
  { label: '2020-2021', kleur: '#009E73', kol: 2, rij: 0 },
  { label: '2024-2025', kleur: '#CC79A7', kol: 2, rij: 1 },
  { label: 'Mediaan',   kleur: '#1E90FF', kol: 3, rij: 0 }
];
const legBandItems = [
  { label: 'Min-Max', kleur: kleurMinMax },
  { label: 'P10-P90', kleur: kleurP10P90 },
  { label: 'P25-P75', kleur: kleurP25P75 }
];
const kolX = [479, 1079, 1677, 2272];
const rijY = [1803, 1968];
const bandY = [1788, 1923, 2060];

const leg = document.getElementById('legende');
legLijnItems.forEach(it => {
  const d = document.createElement('div');
  d.className = 'item';
  d.style.left = kolX[it.kol] + 'px';
  d.style.top = (rijY[it.rij] - 60) + 'px';
  d.innerHTML = '<span class="key" style="width:116px;height:16px;background:' + it.kleur +
    ';margin-right:61px"></span><span style="font-size:71px;line-height:1.2">' + it.label + '</span>';
  leg.appendChild(d);
});
legBandItems.forEach((it, i) => {
  const d = document.createElement('div');
  d.className = 'item';
  d.style.left = '2892px';
  d.style.top = (bandY[i] - 60) + 'px';
  d.innerHTML = '<span class="key" style="width:132px;height:80px;background:' + it.kleur +
    ';margin-right:57px"></span><span style="font-size:71px;line-height:1.2">' + it.label + '</span>';
  leg.appendChild(d);
});
</script>
</body>
</html>
